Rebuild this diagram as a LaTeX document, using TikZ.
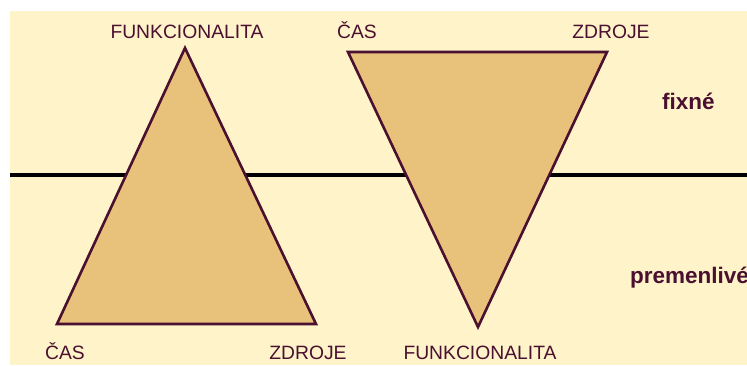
\documentclass[tikz,border=0pt]{standalone}
\usepackage{fontspec}
\setmainfont{Liberation Sans}
\usepackage{xcolor}
\usetikzlibrary{positioning}

\definecolor{krem}{HTML}{FEF3C9}
\definecolor{vypln}{HTML}{E8C27A}
\definecolor{hnede}{HTML}{4B0F2F}

\begin{document}
\begin{tikzpicture}[x=1pt,y=-1pt,
  trojuh/.style={draw=hnede,fill=vypln,line width=2.6pt,line join=miter},
  vrchol/.style={text=hnede,font=\fontsize{19.3}{21}\selectfont,anchor=base,inner sep=0pt},
  stav/.style={text=hnede,font=\fontsize{22.5}{24}\selectfont\bfseries,anchor=base west,inner sep=0pt}
]
  \useasboundingbox (0,0) rectangle (747,365);
  \fill[krem] (10,11) rectangle (747,365);

  % delenie fixne / premenlive
  \coordinate (lineL) at (10,175);
  \coordinate (lineR) at (747,175);
  \draw[line width=4pt] (lineL) -- (lineR);

  % trojuholnik hore vrcholom
  \coordinate (A1) at (185,48);
  \coordinate (B1) at (57,324);
  \coordinate (C1) at (316,324);
  \draw[trojuh] (A1) -- (C1) -- (B1) -- cycle;

  % trojuholnik dole vrcholom
  \coordinate (A2) at (348,52);
  \coordinate (B2) at (607,52);
  \coordinate (C2) at (478,327);
  \draw[trojuh] (A2) -- (B2) -- (C2) -- cycle;

  \node[vrchol] (funk1) at (187,38) {FUNKCIONALITA};
  \node[vrchol] (cas1) at (65,359) {ČAS};
  \node[vrchol] (zdr1) at (308,359) {ZDROJE};

  \node[vrchol] (cas2) at (357,38) {ČAS};
  \node[vrchol] (zdr2) at (611,38) {ZDROJE};
  \node[vrchol] (funk2) at (480,359) {FUNKCIONALITA};

  \node[stav] (fix) at (662,109) {fixné};
  \node[stav] (prem) at (630,283) {premenlivé};
\end{tikzpicture}
\end{document}
